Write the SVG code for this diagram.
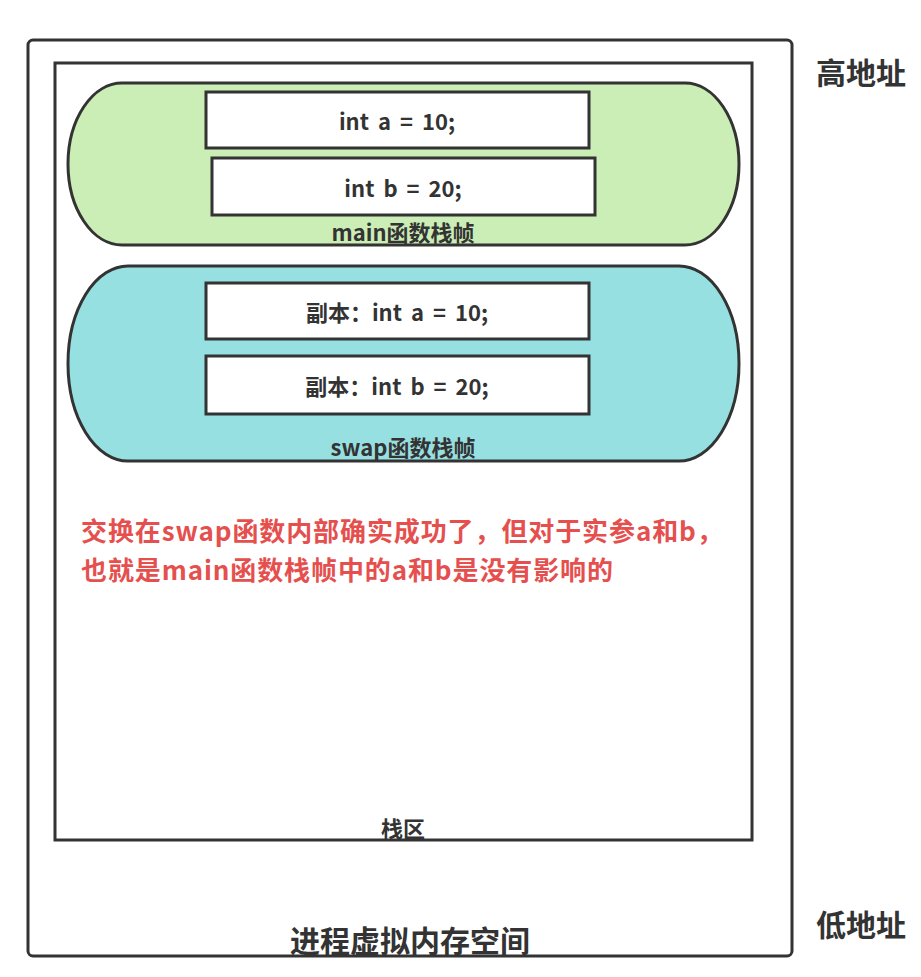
<svg xmlns="http://www.w3.org/2000/svg" width="921" height="977" viewBox="0 0 921 977">
<style>
text{font-family:"Noto Sans CJK SC","Noto Sans",sans-serif;font-weight:bold;fill:#333;text-anchor:middle;dominant-baseline:central}
.box{fill:#fff;stroke:#333;stroke-width:3}
.pill{stroke:#333;stroke-width:3}
.var{font-size:22px;word-spacing:4px}
.lbl{font-size:22px}
.big{font-size:30px}
.red{fill:#e5504f;font-size:26px;letter-spacing:0.9px;text-anchor:start}
</style>
<rect width="921" height="977" fill="#fff"/>
<g id="process">
<rect x="28" y="40" width="764" height="916" rx="5" fill="#fff" stroke="#333" stroke-width="3"/>
<text class="big" x="410" y="939">进程虚拟内存空间</text>
</g>
<g id="stack">
<rect x="55" y="63" width="697" height="777" fill="#fff" stroke="#333" stroke-width="3"/>
<text class="lbl" x="403" y="827">栈区</text>
</g>
<g id="main-frame">
<path class="pill" fill="#cbedb6" d="M122 83 H685 A54 81 0 0 1 685 245 H122 A54 81 0 0 1 122 83 Z"/>
<text class="lbl" x="403" y="231">main函数栈帧</text>
</g>
<g id="main-a">
<rect class="box" x="206" y="92" width="383" height="56"/>
<text class="var" x="397" y="120">int a = 10;</text>
</g>
<g id="main-b">
<rect class="box" x="212" y="158" width="383" height="57"/>
<text class="var" x="403" y="187">int b = 20;</text>
</g>
<g id="swap-frame">
<path class="pill" fill="#96e0e2" d="M128 266 H679 A60 97.5 0 0 1 679 461 H128 A60 97.5 0 0 1 128 266 Z"/>
<text class="lbl" x="403" y="446">swap函数栈帧</text>
</g>
<g id="swap-a">
<rect class="box" x="206" y="283" width="383" height="56"/>
<text class="var" x="397" y="311">副本：int a = 10;</text>
</g>
<g id="swap-b">
<rect class="box" x="206" y="356" width="383" height="58"/>
<text class="var" x="397" y="385">副本：int b = 20;</text>
</g>
<g id="note">
<text class="red" x="81" y="529">交换在swap函数内部确实成功了，但对于实参a和b，</text>
<text class="red" x="81" y="568">也就是main函数栈帧中的a和b是没有影响的</text>
</g>
<g id="high"><text class="big" x="861" y="71">高地址</text></g>
<g id="low"><text class="big" x="861" y="923">低地址</text></g>
<g id="connectors"></g>
</svg>
